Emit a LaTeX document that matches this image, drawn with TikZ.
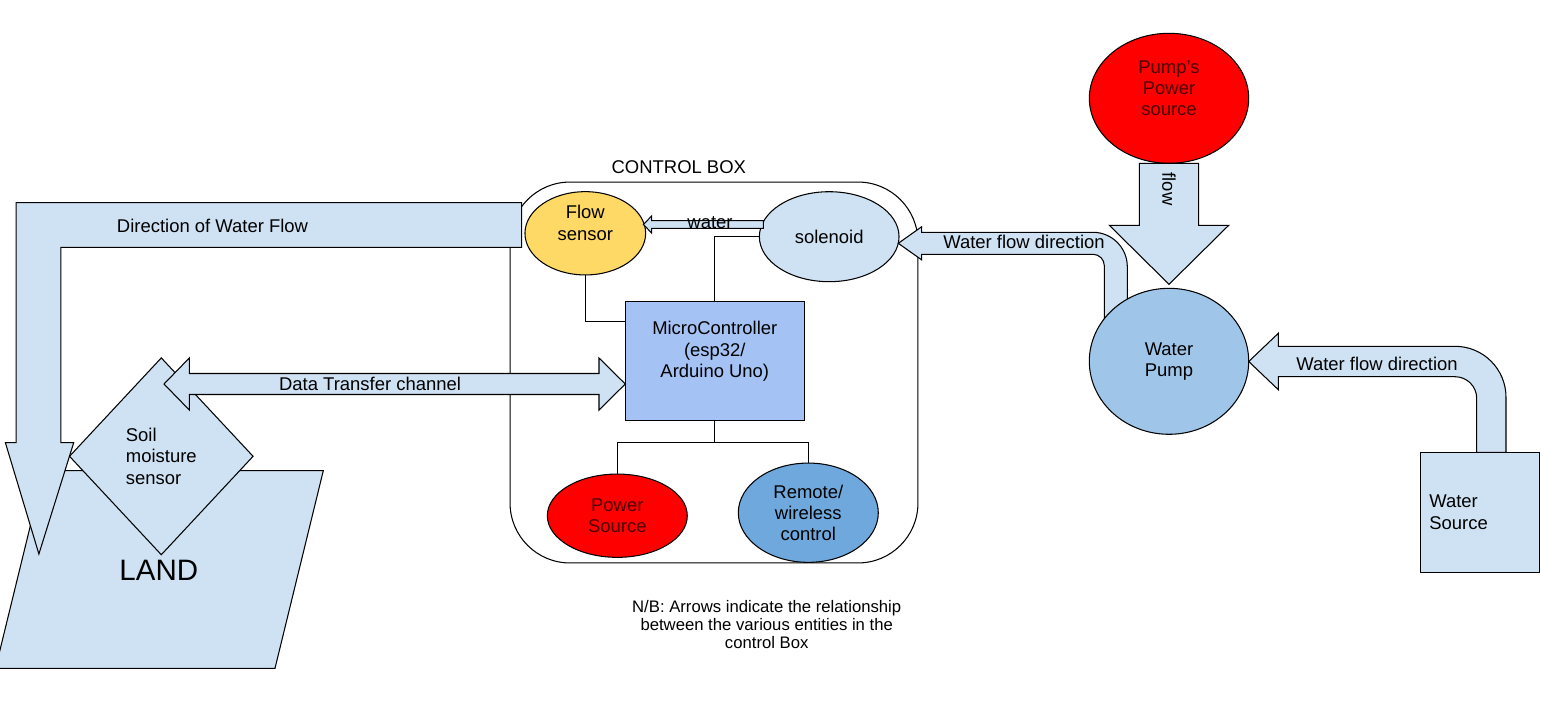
\documentclass[tikz,border=0pt]{standalone}
\usepackage{fontspec}
\setmainfont{Liberation Sans}
\usetikzlibrary{shapes.geometric, calc}

\definecolor{paleblue}{HTML}{CFE2F3}
\definecolor{chipblue}{HTML}{A4C2F4}
\definecolor{pumpblue}{HTML}{9FC5E8}
\definecolor{radioblue}{HTML}{6FA8DC}
\definecolor{sensoryellow}{HTML}{FFD966}
\definecolor{powerred}{HTML}{FF0000}
\definecolor{inkred}{HTML}{4A0000}

\begin{document}
\begin{tikzpicture}
            [x=0.02cm, y=-0.02cm, line width=0.6pt, font=\fontsize{10.5}{12.1}\selectfont,
             part/.style={draw=black, inner sep=0pt, align=center},
             blockarrow/.style={draw=black, fill=paleblue},
             note/.style={inner sep=0pt, align=center}]
            \useasboundingbox (0, 0) rectangle (1541, 700);

            \node[part, rounded corners=1.2cm, minimum width=8.16cm, minimum height=7.62cm] (ctrlbox) at (714, 372.5) {};
            \node[note] (ctrllabel) at (678.8, 166.7) {CONTROL BOX};

            % land side
            \draw[fill=paleblue] (43.8, 470.7) -- (323.3, 470.7) -- (275, 668.3) -- (-4.5, 668.3) -- cycle;
            \node[note, font=\fontsize{16.8}{19}\selectfont] (land) at (158.8, 570) {LAND};
            \draw[blockarrow] (521.6, 202.7) -- (16.2, 202.7) -- (16.2, 442.7) -- (5.4, 442.7) -- (38.9, 554)
                -- (73.7, 442.7) -- (60.9, 442.7) -- (60.9, 247.3) -- (521.6, 247.3) -- cycle;
            \node[note] (backflow) at (212.5, 225.7) {Direction of Water Flow};
            \node[part, shape=diamond, fill=paleblue, minimum width=3.68cm, minimum height=3.946cm, align=left] (soil) at (161.3, 456.3) {Soil\\moisture\\sensor};

            % control box contents
            \node[part, fill=chipblue, minimum width=3.58cm, minimum height=2.386cm] (mcu) at (714.8, 361.3) {};
            \node[note] (mculabel) at ([yshift=0.2cm]mcu.center) {MicroController\\(esp32/\\Arduino Uno)};
            \draw[blockarrow] (164, 384) -- (189.3, 358) -- (189.3, 373.5) -- (599, 373.5) -- (599, 358) -- (625.3, 384)
                -- (599, 410) -- (599, 394.5) -- (189.3, 394.5) -- (189.3, 410) -- cycle;
            \node[note] (datalabel) at (370, 384) {Data Transfer channel};

            \node[part, shape=ellipse, fill=sensoryellow, minimum width=2.414cm, minimum height=1.666cm] (flow) at (585.3, 233.3) {};
            \node[note] (flowlabel) at ([yshift=0.21cm]flow.center) {Flow\\sensor};
            \node[part, shape=ellipse, fill=paleblue, minimum width=2.794cm, minimum height=1.8cm] (sol) at (829.2, 236.7) {solenoid};
            \node[part, shape=ellipse, fill=powerred, text=inkred, minimum width=2.8cm, minimum height=1.666cm] (power) at (617.3, 515.7) {Power\\Source};
            \node[part, shape=ellipse, fill=radioblue, minimum width=2.8cm, minimum height=1.986cm] (remote) at (808.3, 512.7) {Remote/\\wireless\\control};

            \draw[blockarrow] (763.3, 220.7) -- (651.7, 220.7) -- (651.7, 216) -- (643.3, 224.5) -- (651.7, 233)
                -- (651.7, 228.3) -- (763.3, 228.3) -- cycle;
            \node[note, anchor=base] (waterlabel) at (710, 228.5) {water};

            \draw (flow.south) |- ($(mcu.north west)!0.17!(mcu.south west)$);
            \draw (sol.west) -| (mcu.north);
            \draw (mcu.south) -- ++(0, 21.3) -| (power.north);
            \draw (mcu.south) -- ++(0, 21.3) -| (remote.north);

            % pump side
            \node[part, shape=ellipse, fill=powerred, minimum width=3.188cm, minimum height=2.6cm] (pumppower) at (1169, 98.3) {};
            \node[note, text=inkred] (pumppowerlabel) at ([yshift=0.2cm]pumppower.center) {Pump's\\Power\\source};
            \draw[blockarrow] (1139.3, 163.3) -- (1198.7, 163.3) -- (1198.7, 225.3) -- (1228.7, 225.3) -- (1169, 284.3)
                -- (1109.3, 225.3) -- (1139.3, 225.3) -- cycle;
            \node[note, rotate=-90] (powerflow) at (1169, 189) {flow};

            \draw[blockarrow] (1127.3, 330) -- (1127.3, 266.6) .. controls (1127.3, 247.7) and (1111.9, 232.3) .. (1093, 232.3)
                -- (921.7, 232.3) -- (921.7, 226.7) -- (898.3, 243.3) -- (921.7, 259.9) -- (921.7, 254.3) -- (1093, 254.3)
                .. controls (1099.2, 254.3) and (1104.3, 259.4) .. (1104.3, 265.6) -- (1104.3, 330) -- cycle;
            \node[note] (pumpout) at (1024, 242.3) {Water flow direction};

            \draw[blockarrow] (1506, 452.3) -- (1506, 397.3) .. controls (1506, 369.1) and (1483.2, 346.3) .. (1455, 346.3)
                -- (1278.3, 346.3) -- (1278.3, 333.3) -- (1248.7, 361.5) -- (1278.3, 389.7) -- (1278.3, 376.7) -- (1455, 376.7)
                .. controls (1467, 376.7) and (1476.7, 386.4) .. (1476.7, 398.4) -- (1476.7, 452.3) -- cycle;
            \node[note] (pumpin) at (1377, 364) {Water flow direction};

            \node[part, fill=paleblue, minimum width=2.38cm, minimum height=2.4cm, text width=2.02cm, inner xsep=0.18cm, align=left] (source) at (1479.8, 512.3) {Water\\Source};
            \node[part, shape=ellipse, fill=pumpblue, minimum width=3.188cm, minimum height=2.92cm] (pump) at (1169, 361.3) {Water\\Pump};

            \node[note, font=\fontsize{9.5}{10}\selectfont] (nb) at (766.7, 624.5) {N/B: Arrows indicate the relationship\\between the various entities in the\\control Box};
        \end{tikzpicture}
\end{document}
